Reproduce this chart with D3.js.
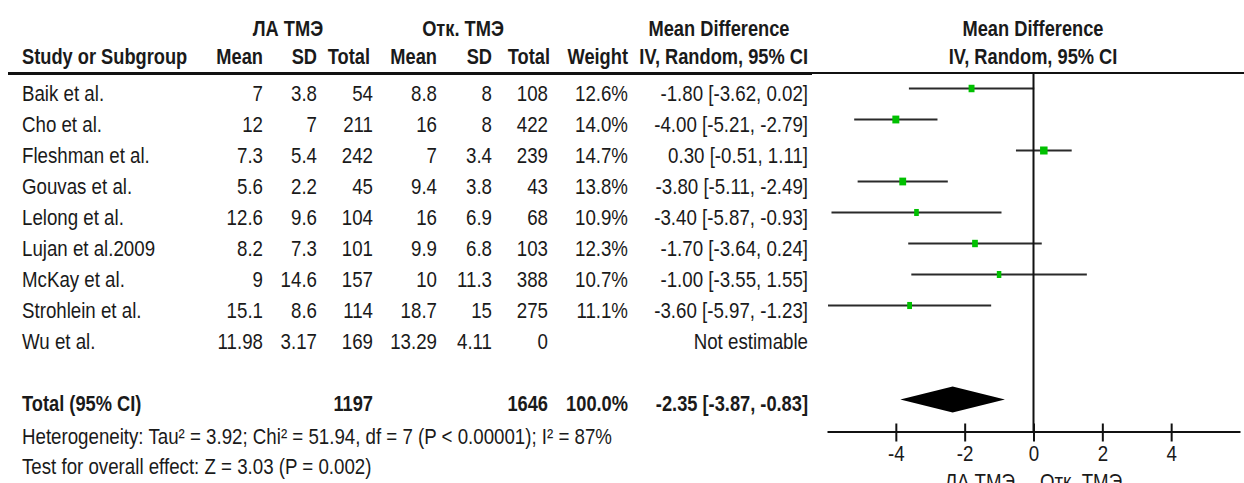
<!DOCTYPE html>
<html>
<head>
<meta charset="utf-8">
<script src="https://cdn.jsdelivr.net/npm/d3@7"></script>
<style>
  body { margin: 0; background: #fff; }
  svg text { font-family: "Liberation Sans", Arial, sans-serif; fill: #1a1a1a; }
</style>
</head>
<body>
<script>
var width = 1244;
var height = 483;

// data
var studies = ["Baik et al.", "Cho et al.", "Fleshman et al.", "Gouvas et al.", "Lelong et al.",
               "Lujan et al.2009", "McKay et al.", "Strohlein et al.", "Wu et al."];
var mean1 = ["7", "12", "7.3", "5.6", "12.6", "8.2", "9", "15.1", "11.98"];
var sd1 = ["3.8", "7", "5.4", "2.2", "9.6", "7.3", "14.6", "8.6", "3.17"];
var total1 = [54, 211, 242, 45, 104, 101, 157, 114, 169];
var mean2 = ["8.8", "16", "7", "9.4", "16", "9.9", "10", "18.7", "13.29"];
var sd2 = ["8", "8", "3.4", "3.8", "6.9", "6.8", "11.3", "15", "4.11"];
var total2 = [108, 422, 239, 43, 68, 103, 388, 275, 0];
var weights = [12.6, 14.0, 14.7, 13.8, 10.9, 12.3, 10.7, 11.1, null];
var md = [-1.80, -4.00, 0.30, -3.80, -3.40, -1.70, -1.00, -3.60, null];
var lower = [-3.62, -5.21, -0.51, -5.11, -5.87, -3.64, -3.55, -5.97, null];
var upper = [0.02, -2.79, 1.11, -2.49, -0.93, 0.24, 1.55, -1.23, null];
var total = {n1: 1197, n2: 1646, md: -2.35, lo: -3.87, hi: -0.83};
var ticks = [-4, -2, 0, 2, 4];
var groupLabels = ["ЛА ТМЭ", "Отк. ТМЭ"];
var heterogeneity = "Heterogeneity: Tau² = 3.92; Chi² = 51.94, df = 7 (P < 0.00001); I² = 87%";
var overall = "Test for overall effect: Z = 3.03 (P = 0.002)";

var svg = d3.select("body")
    .append("svg")
    .attr("width", width)
    .attr("height", height);

var fs = 22;
var sxReg = 0.85;   // the source font is condensed
var sxBold = 0.83;

// scales
var x = d3.scaleLinear().domain([-6, 6]).range([827, 1240]);
var rowY = d3.scaleLinear().domain([0, 1]).range([88.5, 119.5]);   // CI line y per row
var boxW = d3.scaleLinear().domain([10.7, 14.7]).range([4.5, 7.5]);
var boxH = d3.scaleLinear().domain([10.7, 14.7]).range([7, 8]);

// column right edges
var cols = {m1: 263, sd1: 317, n1: 373, m2: 437, sd2: 492, n2: 548, w: 628, ci: 808};

function txt(x0, y0, s, anchor, bold) {
    return svg.append("text")
        .attr("transform", "translate(" + x0 + "," + y0 + ") scale(" + (bold ? sxBold : sxReg) + ",1)")
        .attr("text-anchor", anchor || "start")
        .attr("font-size", fs)
        .attr("font-weight", bold ? "bold" : "normal")
        .text(s);
}

function num(v) { return v.toFixed(2); }

// headers
txt(288, 36, groupLabels[0], "middle", true);
txt(463, 36, groupLabels[1], "middle", true);
txt(719, 36, "Mean Difference", "middle", true);
txt(1033, 36, "Mean Difference", "middle", true);

txt(22, 64, "Study or Subgroup", "start", true);
txt(cols.m1, 64, "Mean", "end", true);
txt(cols.sd1, 64, "SD", "end", true);
txt(370, 64, "Total", "end", true);
txt(cols.m2, 64, "Mean", "end", true);
txt(cols.sd2, 64, "SD", "end", true);
txt(550, 64, "Total", "end", true);
txt(cols.w, 64, "Weight", "end", true);
txt(cols.ci, 64, "IV, Random, 95% CI", "end", true);
txt(1033, 64, "IV, Random, 95% CI", "middle", true);

svg.append("line")
    .attr("x1", 8).attr("x2", 812)
    .attr("y1", 73.5).attr("y2", 73.5)
    .attr("stroke", "#111").attr("stroke-width", 3);
svg.append("line")
    .attr("x1", 812).attr("x2", width)
    .attr("y1", 73).attr("y2", 73)
    .attr("stroke", "#111").attr("stroke-width", 2);

// study rows
for (var i = 0; i < studies.length; i++) {
    var by = rowY(i) + 12.5;
    txt(22, by, studies[i]);
    txt(cols.m1, by, mean1[i], "end");
    txt(cols.sd1, by, sd1[i], "end");
    txt(cols.n1, by, total1[i], "end");
    txt(cols.m2, by, mean2[i], "end");
    txt(cols.sd2, by, sd2[i], "end");
    txt(cols.n2, by, total2[i], "end");
    if (md[i] === null) {
        txt(cols.ci, by, "Not estimable", "end");
        continue;
    }
    txt(cols.w, by, weights[i].toFixed(1) + "%", "end");
    txt(cols.ci, by, num(md[i]) + " [" + num(lower[i]) + ", " + num(upper[i]) + "]", "end");

    svg.append("line")
        .attr("x1", x(lower[i])).attr("x2", x(upper[i]))
        .attr("y1", rowY(i)).attr("y2", rowY(i))
        .attr("stroke", "#2a2a2a").attr("stroke-width", 2);
}

// zero line
svg.append("line")
    .attr("x1", x(0)).attr("x2", x(0))
    .attr("y1", 74).attr("y2", 432)
    .attr("stroke", "#111").attr("stroke-width", 2);

// boxes on top
for (var j = 0; j < studies.length; j++) {
    if (md[j] === null) continue;
    var w = boxW(weights[j]), h = boxH(weights[j]);
    svg.append("rect")
        .attr("x", x(md[j]) - w / 2)
        .attr("y", rowY(j) - h / 2)
        .attr("width", w)
        .attr("height", h)
        .attr("fill", "#00c000");
}

// total row
var ty = 411;
txt(22, ty, "Total (95% CI)", "start", true);
txt(cols.n1, ty, total.n1, "end", true);
txt(cols.n2, ty, total.n2, "end", true);
txt(cols.w, ty, "100.0%", "end", true);
txt(cols.ci, ty, num(total.md) + " [" + num(total.lo) + ", " + num(total.hi) + "]", "end", true);

var dy = 399.5;
svg.append("polygon")
    .attr("points", [[x(total.lo), dy], [x(total.md), dy - 13], [x(total.hi), dy], [x(total.md), dy + 13]].join(" "))
    .attr("fill", "#000");

txt(22, 444, heterogeneity);
txt(22, 474, overall);

// axis
var axis = svg.append("g")
    .attr("transform", "translate(0,431.5)")
    .call(d3.axisBottom(x).tickValues(ticks).tickSize(10).tickSizeOuter(0));
axis.select(".domain").attr("stroke", "#111").attr("stroke-width", 2);
axis.selectAll(".tick line").attr("y1", -8).attr("stroke", "#111").attr("stroke-width", 2);
axis.selectAll(".tick text")
    .attr("y", 14)
    .attr("dy", "0.71em")
    .attr("font-size", fs)
    .attr("font-family", null)
    .attr("transform", "scale(" + sxReg + ",1)")
    .text(function(d) { return String(d); });

// favours labels (cut off at the bottom edge, as in the source)
txt(1015, 489, groupLabels[0], "end");
txt(1040, 489, groupLabels[1], "start");
</script>
</body>
</html>
